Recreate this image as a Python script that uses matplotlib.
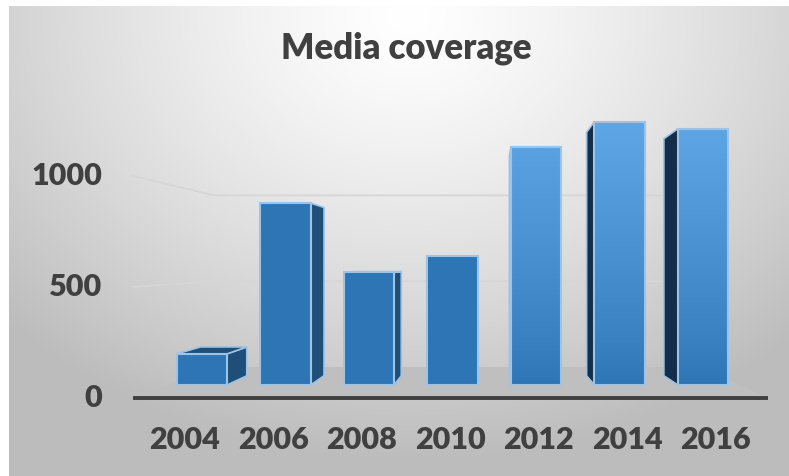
import numpy as np
import matplotlib
matplotlib.use("Agg")
import matplotlib.pyplot as plt
from matplotlib.patches import Polygon
from matplotlib.colors import LinearSegmentedColormap

# Data
years = ["2004", "2006", "2008", "2010", "2012", "2014", "2016"]
coverage = [155, 905, 560, 640, 1185, 1310, 1275]
y_ticks = [0, 500, 1000]

plt.rcParams['font.family'] = ['Lato', 'DejaVu Sans']
text_col = "#404040"

# fake perspective: vanishing point in data coords, depth factors
xv, yv = 3.45, 612
k_bar_back = 0.925
k_floor_front = 1.106
k_floor_back = 0.854
bar_w = 0.6

def proj(x, y, k):
    return xv + (x - xv) * k, yv + (y - yv) * k

fig = plt.figure(figsize=(7.89, 4.76), dpi=100)

# background with radial gradient
bg = fig.add_axes([9 / 789, 0, 780 / 789, 470 / 476])
yy, xx = np.mgrid[0:470, 0:780]
r = np.sqrt(((xx - 400) / 1.0) ** 2 + ((yy - 10) * 1.25) ** 2)
shade = np.clip(1.0 - 0.24 * (r / 520) ** 1.3, 0.74, 1.0)
bg.imshow(np.dstack([shade] * 3), aspect='auto', extent=[0, 1, 0, 1], origin='upper')
bg.axis('off')

ax = fig.add_axes([118.5 / 789, (476 - 455.35) / 476, 668 / 789, (455.35 - 3.1) / 476])
ax.set_xlim(-1, 7)
ax.set_ylim(-350, 1900)
ax.patch.set_alpha(0)
ax.axis('off')

# floor
fL, fR = -0.42, 6.45
floor = [proj(fL, 0, k_floor_front), proj(fR, 0, k_floor_front),
         proj(fR, 0, k_floor_back), proj(fL, 0, k_floor_back)]
ax.add_patch(Polygon(floor, closed=True, facecolor="#bfbfbf", edgecolor="none", zorder=1))

# gridlines on back wall and left side wall
for t in y_ticks[1:]:
    p0 = proj(fL, t, k_floor_front)
    p1 = proj(fL, t, k_floor_back)
    p2 = proj(fR, t, k_floor_back)
    ax.plot([p0[0], p1[0], p2[0]], [p0[1], p1[1], p2[1]], color="#d6d6d6", lw=1.3, zorder=0.5)

# axis line at the front of the floor
a0 = proj(fL, 0, k_floor_front)
a1 = proj(fR + 0.01, 0, k_floor_front)
ax.plot([a0[0], a1[0]], [a0[1], a1[1]], color="#404040", lw=2.8, zorder=2, solid_capstyle='butt')

grad = LinearSegmentedColormap.from_list("g", ["#2e75b6", "#5ea6e6"])
edge = "#9dc3e6"

for i, v in enumerate(coverage):
    l, r_ = i - bar_w / 2, i + bar_w / 2
    z = 3 + abs(i - xv) * -0.01
    # side face
    if i < 3:
        side = [(r_, 0), (r_, v), proj(r_, v, k_bar_back), proj(r_, 0, k_bar_back)]
        ax.add_patch(Polygon(side, closed=True, facecolor="#1f4e79", edgecolor=edge, lw=1.2, zorder=z))
    elif i > 3:
        side = [(l, 0), (l, v), proj(l, v, k_bar_back), proj(l, 0, k_bar_back)]
        ax.add_patch(Polygon(side, closed=True, facecolor="#132d4a", edgecolor=edge, lw=1.2, zorder=z))
    # top face if below eye level
    if v < yv:
        top = [(l, v), (r_, v), proj(r_, v, k_bar_back), proj(l, v, k_bar_back)]
        ax.add_patch(Polygon(top, closed=True, facecolor="#1f4e79", edgecolor=edge, lw=1.2, zorder=z))
    # front face
    bars = ax.bar(i, v, width=bar_w, color="#2e75b6", edgecolor=edge, lw=1.5, zorder=z + 0.1)
    if i > 3:
        g = np.linspace(1, 0.0, 100).reshape(-1, 1) ** 0.8 * (v / 1320)
        img = ax.imshow(g, cmap=grad, vmin=0, vmax=1, aspect='auto',
                        extent=[l, r_, 0, v], zorder=z + 0.05)
        img.set_clip_path(bars[0])
        bars[0].set_facecolor("none")
        bars[0].set_zorder(z + 0.2)

ax.set_xlim(-1, 7)
ax.set_ylim(-350, 1900)

# y tick labels
for t in y_ticks:
    px, py = proj(fL, t, k_floor_front)
    ax.text(px - 0.36, py, str(t), ha='right', va='center', fontsize=22,
            fontweight='heavy', color=text_col)

# x tick labels
for i, yr in enumerate(years):
    px, _ = proj(i, 0, 1.06)
    _, py = proj(fL, 0, k_floor_front)
    ax.text(px, py - 209, yr, ha='center', va='center', fontsize=22,
            fontweight='heavy', color=text_col)

fig.text(406 / 789, 1 - 48 / 476, "Media coverage", ha='center', va='center',
         fontsize=25, fontweight='heavy', color=text_col)

fig.savefig("out.png", dpi=100)
